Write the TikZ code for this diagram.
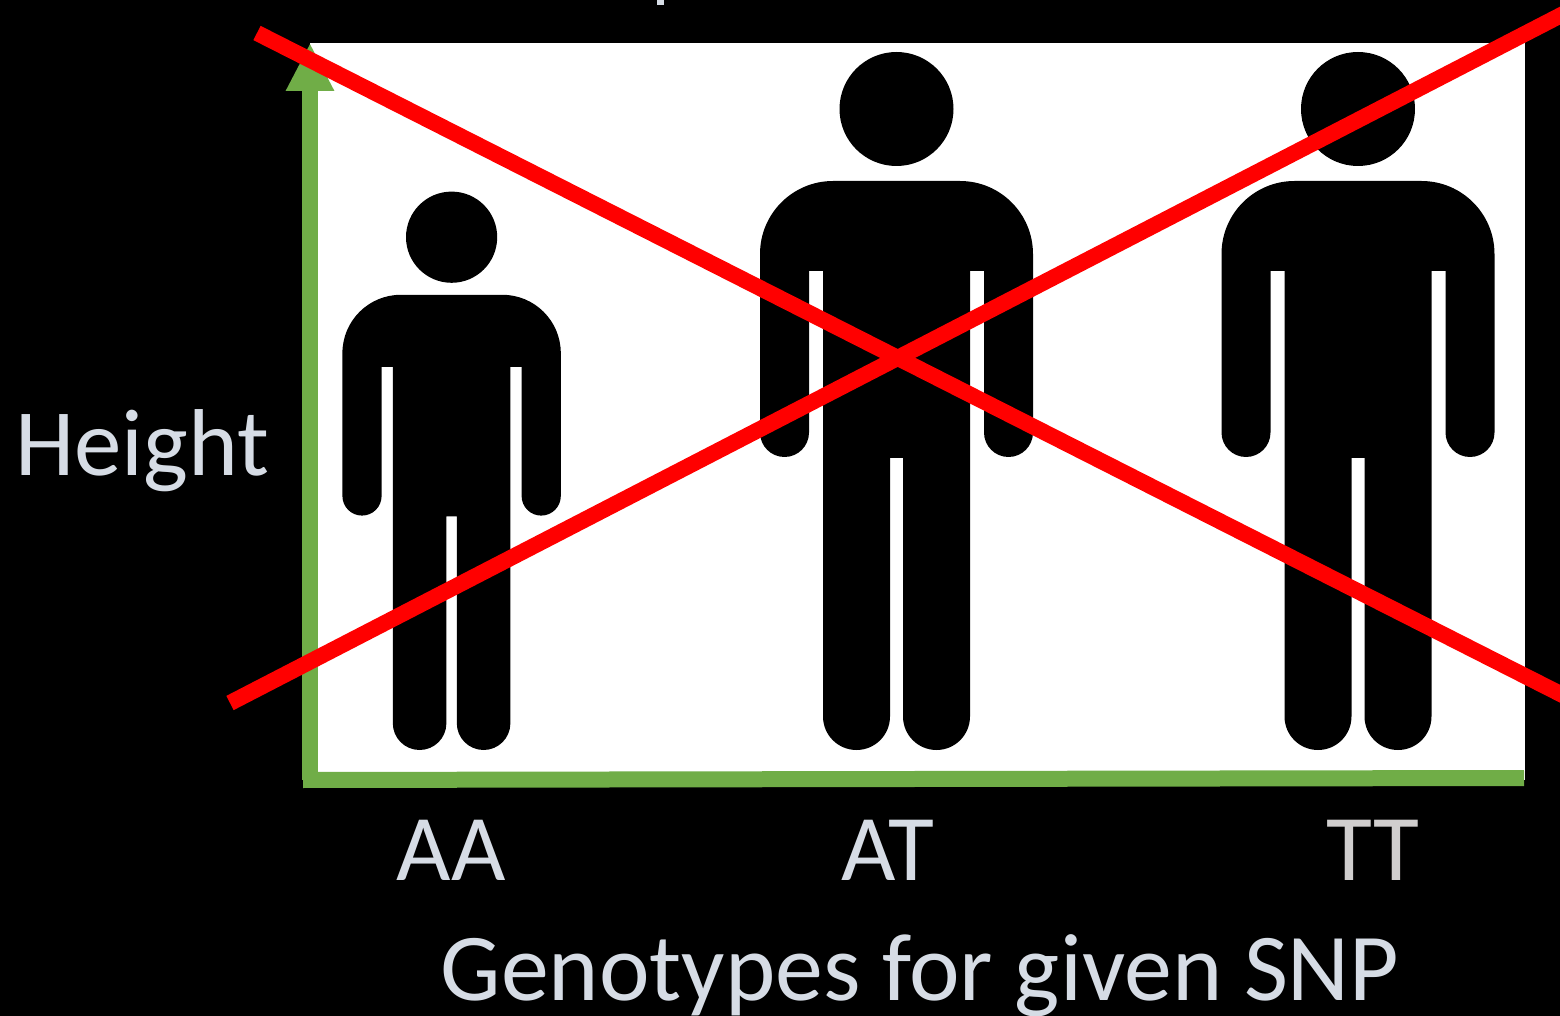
\documentclass[tikz,border=0pt]{standalone}
\usepackage{fontspec}
\setmainfont{Carlito}
\usepackage{xcolor}
\usetikzlibrary{arrows.meta}
\definecolor{axisc}{HTML}{70AD47}
\definecolor{labelc}{HTML}{D6DCE5}
\definecolor{ttc}{HTML}{D0CECE}
\tikzset{
  lbl/.style={text=labelc, anchor=base, inner sep=0pt, font=\fontsize{47}{50}\selectfont},
  biglbl/.style={lbl, font=\fontsize{47.9}{50}\selectfont},
  axisl/.style={draw=axisc, line width=8pt},
  crossl/.style={draw=red, line width=8pt},
  pics/person/.style={code={
    \fill[black] (0,-641) circle[radius=57];
    \fill[black] (-136.5,-317.5) arc[start angle=180,end angle=0,radius=24.5]
      -- (-87.5,-479) -- (-73.5,-479) -- (-73.5,-33.5)
      arc[start angle=180,end angle=0,radius=33.5]
      -- (-6.5,-292) -- (6.5,-292) -- (6.5,-33.5)
      arc[start angle=180,end angle=0,radius=33.5]
      -- (73.5,-479) -- (87.5,-479) -- (87.5,-317.5)
      arc[start angle=180,end angle=0,radius=24.5]
      -- (136.5,-496) arc[start angle=0,end angle=-90,radius=73]
      -- (-63.5,-569) arc[start angle=-90,end angle=-180,radius=73]
      -- cycle;
  }},
}

\begin{document}
\begin{tikzpicture}[x=0.5pt,y=-0.5pt]
\fill[black] (0,0) rectangle (1560,1016);
\useasboundingbox (0,0) rectangle (1560,1016);

% ---- plot area ----
\fill[white] (310,43) rectangle (1525,780);

% ---- people ----
\pic[scale=.8] at (451.6,750) {person};
\pic at (896.5,750) {person};
\pic at (1358,750) {person};

% ---- axes ----
\coordinate (orig) at (310,780);
\coordinate (ytip) at (310,43);
\coordinate (xstart) at (303,780);
\coordinate (xend) at (1524,778);
\draw[axisl, -{Triangle[length=24pt,width=22.5pt]}] (orig) -- (ytip);
\draw[axisl] (xstart) -- (xend);

% ---- labels ----
\node[lbl, font=\fontsize{47.5}{50}\selectfont] (height) at (142,475) {Height};
\node[lbl] (aa) at (451,880) {AA};
\node[lbl] (at) at (888,880) {AT};
\node[lbl, text=ttc] (tt) at (1373,880) {TT};
\node[biglbl] (geno) at (920,1000) {Genotypes for given SNP};

% cut-off text at the top edge
\fill[labelc] (657,0) rectangle (664,5);

% ---- red cross ----
\coordinate (c1a) at (257,33);
\coordinate (c1b) at (1600,714);
\coordinate (c2a) at (230,703);
\coordinate (c2b) at (1600,-5);
\draw[crossl] (c1a) -- (c1b);
\draw[crossl] (c2a) -- (c2b);

\end{tikzpicture}
\end{document}
